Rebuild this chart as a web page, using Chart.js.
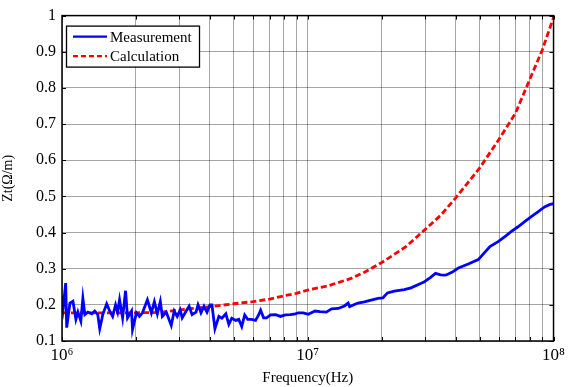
<!DOCTYPE html>
<html>
<head>
<meta charset="utf-8">
<script src="https://cdn.jsdelivr.net/npm/chart.js@4"></script>
<style>
  html, body { margin: 0; padding: 0; background: #fff; }
  #wrap { width: 569px; height: 387px; }
</style>
</head>
<body>
<div id="wrap"><canvas id="c" width="569" height="387"></canvas></div>
<script>
// Measurement (blue), frequency in MHz and Zt in ohm/m
const measFreqMHz = [
  1.0, 1.012, 1.035, 1.045, 1.077, 1.108, 1.139, 1.161, 1.193, 1.216,
  1.239, 1.274, 1.322, 1.359, 1.398, 1.424, 1.465, 1.52, 1.563, 1.607,
  1.652, 1.684, 1.715, 1.764, 1.814, 1.848, 1.918, 1.936, 2.009, 2.066,
  2.125, 2.226, 2.31, 2.376, 2.443, 2.512, 2.56, 2.656, 2.783, 2.861,
  2.942, 3.026, 3.083, 3.2, 3.29, 3.383, 3.51, 3.577, 3.678, 3.782,
  3.889, 4.0, 4.075, 4.19, 4.349, 4.472, 4.642, 4.773, 4.908, 5.094,
  5.238, 5.387, 5.538, 5.696, 5.912, 6.13, 6.31, 6.429, 6.611, 6.798,
  7.055, 7.391, 7.743, 8.111, 8.497, 8.902, 9.154, 9.59, 10.05, 10.7,
  11.2, 11.9, 12.5, 13.3, 14.1, 14.6, 14.8, 16.0, 17.0, 18.1,
  19.3, 20.2, 21.1, 22.5, 24.7, 26.3, 28.8, 29.7, 31.6, 33.1,
  34.7, 36.4, 38.6, 41.0, 45.0, 49.4, 52.6, 55.1, 59.5, 63.4,
  67.4, 71.7, 76.3, 81.2, 86.4, 91.9, 96.3, 100
];
const measZt = [
  0.225, 0.194, 0.26, 0.137, 0.205, 0.21, 0.16, 0.18, 0.155, 0.218,
  0.173, 0.18, 0.175, 0.183, 0.173, 0.134, 0.173, 0.203, 0.183, 0.168,
  0.2, 0.18, 0.214, 0.164, 0.239, 0.164, 0.183, 0.132, 0.178, 0.168,
  0.178, 0.214, 0.178, 0.209, 0.175, 0.209, 0.168, 0.18, 0.143, 0.183,
  0.168, 0.186, 0.164, 0.183, 0.196, 0.173, 0.18, 0.2, 0.178, 0.196,
  0.18, 0.2, 0.2, 0.134, 0.168, 0.163, 0.175, 0.146, 0.163, 0.157,
  0.16, 0.14, 0.172, 0.16, 0.16, 0.157, 0.172, 0.185, 0.164, 0.164,
  0.172, 0.173, 0.168, 0.172, 0.173, 0.175, 0.178, 0.178, 0.174, 0.183,
  0.181, 0.18, 0.189, 0.19, 0.197, 0.205, 0.195, 0.205, 0.208, 0.213,
  0.218, 0.219, 0.233, 0.238, 0.242, 0.247, 0.259, 0.263, 0.276, 0.287,
  0.283, 0.282, 0.29, 0.302, 0.313, 0.325, 0.346, 0.361, 0.375, 0.389,
  0.403, 0.416, 0.43, 0.444, 0.457, 0.471, 0.477, 0.48
];

// Calculation (red dashed)
const calcFreqMHz = [
  1, 1.5, 2, 2.5, 3, 3.5, 4, 5, 6, 7, 8, 9, 10, 12, 15, 17, 20,
  25, 30, 35, 40, 50, 60, 70, 80, 90, 100
];
const calcZt = [
  0.178, 0.178, 0.178, 0.179, 0.186, 0.191, 0.195, 0.203, 0.209, 0.216,
  0.225, 0.232, 0.241, 0.252, 0.273, 0.29, 0.317, 0.36, 0.408, 0.45,
  0.496, 0.578, 0.658, 0.73, 0.823, 0.905, 0.995
];

const seriesNames = ['Measurement', 'Calculation'];
const seriesColors = ['#0000ff', '#ff0000'];
const xTickDecades = [6, 7, 8];
const yTicks = [0.1, 0.2, 0.3, 0.4, 0.5, 0.6, 0.7, 0.8, 0.9, 1];

const FONT = "'Liberation Serif', 'Times New Roman', serif";
const SUP = { '0': '\u2070', '1': '\u00b9', '2': '\u00b2', '3': '\u00b3', '4': '\u2074',
  '5': '\u2075', '6': '\u2076', '7': '\u2077', '8': '\u2078', '9': '\u2079' };

const toPoints = (fs, vs) => fs.map((f, i) => ({ x: f * 1e6, y: vs[i] }));

// box, inward ticks and legend drawn over the plot
const framePlugin = {
  id: 'frame',
  afterDraw(chart) {
    const { ctx, chartArea: a, scales } = chart;
    ctx.save();
    ctx.strokeStyle = '#000';
    ctx.lineWidth = 1;
    ctx.beginPath();
    scales.x.ticks.forEach(t => {
      const px = Math.round(scales.x.getPixelForValue(t.value)) + 0.5;
      ctx.moveTo(px, a.top); ctx.lineTo(px, a.top + 4);
      ctx.moveTo(px, a.bottom); ctx.lineTo(px, a.bottom - 4);
    });
    scales.y.ticks.forEach(t => {
      const py = Math.round(scales.y.getPixelForValue(t.value)) + 0.5;
      ctx.moveTo(a.left, py); ctx.lineTo(a.left + 4, py);
      ctx.moveTo(a.right, py); ctx.lineTo(a.right - 4, py);
    });
    ctx.stroke();
    ctx.lineWidth = 1.5;
    ctx.strokeRect(a.left, a.top, a.right - a.left, a.bottom - a.top);

    // legend
    const lx = a.left + 4, ly = a.top + 10, lw = 133, lh = 41;
    ctx.fillStyle = '#fff';
    ctx.fillRect(lx, ly, lw, lh);
    ctx.lineWidth = 1.3;
    ctx.strokeRect(lx + 0.5, ly + 0.5, lw, lh);
    ctx.font = '15px ' + FONT;
    ctx.textBaseline = 'middle';
    seriesNames.forEach((name, i) => {
      const y = ly + 11 + i * 19.5;
      ctx.strokeStyle = seriesColors[i];
      ctx.lineWidth = 2.4;
      ctx.setLineDash(i === 1 ? [5, 3] : []);
      ctx.beginPath();
      ctx.moveTo(lx + 7, y); ctx.lineTo(lx + 41, y);
      ctx.stroke();
      ctx.setLineDash([]);
      ctx.fillStyle = '#000';
      ctx.fillText(name, lx + 44, y + 1);
    });
    ctx.restore();
  }
};

new Chart(document.getElementById('c'), {
  type: 'line',
  data: {
    datasets: [
      {
        label: seriesNames[0],
        data: toPoints(measFreqMHz, measZt),
        borderColor: seriesColors[0],
        borderWidth: 2.8,
        pointRadius: 0,
        tension: 0
      },
      {
        label: seriesNames[1],
        data: toPoints(calcFreqMHz, calcZt),
        borderColor: seriesColors[1],
        borderWidth: 2.8,
        borderDash: [6, 3],
        pointRadius: 0,
        tension: 0
      }
    ]
  },
  options: {
    responsive: false,
    animation: false,
    events: [],
    layout: { padding: { top: 11, right: 12, left: 0, bottom: 0 } },
    plugins: { legend: { display: false }, tooltip: { enabled: false } },
    scales: {
      x: {
        type: 'logarithmic',
        min: 1e6,
        max: 1e8,
        afterBuildTicks(scale) {
          const ticks = [];
          xTickDecades.forEach(e => {
            for (let m = 1; m <= 9; m++) {
              const v = m * Math.pow(10, e);
              if (v <= 1e8) ticks.push({ value: v });
            }
          });
          scale.ticks = ticks;
        },
        afterFit(scale) { scale.height = 46; },
        ticks: {
          autoSkip: false,
          maxRotation: 0,
          padding: 4,
          color: '#000',
          font: { family: FONT, size: 17 },
          callback(v) {
            const e = Math.log10(v);
            if (Math.abs(e - Math.round(e)) > 1e-9) return '';
            return '10' + String(Math.round(e)).split('').map(d => SUP[d]).join('');
          }
        },
        grid: { color: 'rgba(0,0,0,0.35)', lineWidth: 1, drawTicks: false },
        border: { display: false },
        title: {
          display: true,
          text: 'Frequency(Hz)',
          color: '#000',
          font: { family: FONT, size: 15 },
          padding: { top: 1, bottom: 0 }
        }
      },
      y: {
        type: 'linear',
        min: 0.1,
        max: 1,
        afterBuildTicks(scale) { scale.ticks = yTicks.map(v => ({ value: v })); },
        afterFit(scale) { scale.width = 62; },
        ticks: {
          padding: 6,
          color: '#000',
          font: { family: FONT, size: 16 },
          callback: v => String(parseFloat(v.toFixed(1)))
        },
        grid: { color: 'rgba(0,0,0,0.35)', lineWidth: 1, drawTicks: false },
        border: { display: false },
        title: {
          display: true,
          text: 'Zt(\u03a9/m)',
          color: '#000',
          font: { family: FONT, size: 14 },
          padding: { top: 0, bottom: 0 }
        }
      }
    }
  },
  plugins: [framePlugin]
});
</script>
</body>
</html>
